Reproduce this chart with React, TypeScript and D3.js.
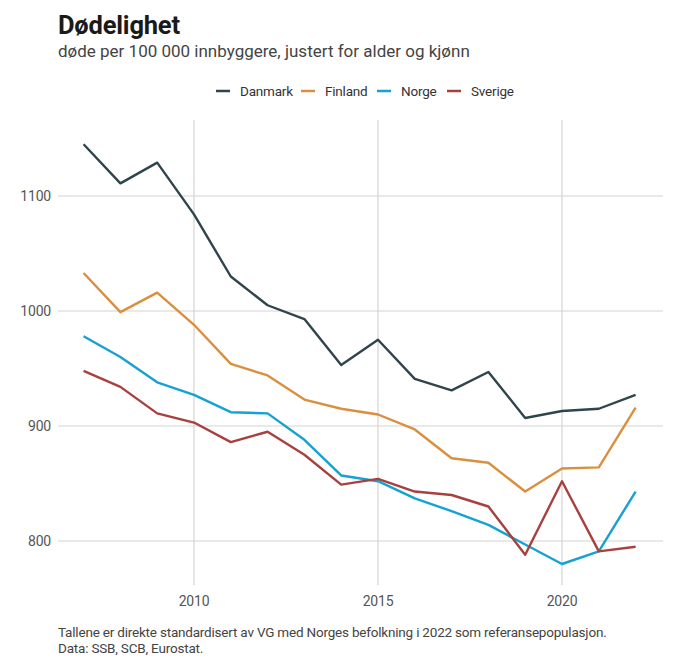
import { useRef, useEffect } from "react";
import * as d3 from "d3";

const YEARS = [2007, 2008, 2009, 2010, 2011, 2012, 2013, 2014, 2015, 2016, 2017, 2018, 2019, 2020, 2021, 2022];

const DANMARK = [1145, 1111, 1129, 1084, 1030, 1005, 993, 953, 975, 941, 931, 947, 907, 913, 915, 927];
const FINLAND = [1033, 999, 1016, 988, 954, 944, 923, 915, 910, 897, 872, 868, 843, 863, 864, 916];
const NORGE = [978, 960, 938, 927, 912, 911, 888, 857, 852, 837, 826, 814, 797, 780, 791, 843];
const SVERIGE = [948, 934, 911, 903, 886, 895, 875, 849, 854, 843, 840, 830, 788, 852, 791, 795];

const SERIES = [
  { name: "Danmark", values: DANMARK, color: "#2f454b" },
  { name: "Finland", values: FINLAND, color: "#da8f3e" },
  { name: "Norge", values: NORGE, color: "#15a2d2" },
  { name: "Sverige", values: SVERIGE, color: "#a8403f" },
];

const Y_TICKS = [800, 900, 1000, 1100];
const X_TICKS = [2010, 2015, 2020];

const FONT = "Roboto, 'Noto Sans', sans-serif";

export default function App() {
  const svgRef = useRef<SVGSVGElement>(null);

  useEffect(() => {
    if (!svgRef.current) return;
    const width = 680;
    const height = 671;
    const svg = d3.select(svgRef.current);
    svg.selectAll("*").remove();
    svg.attr("width", width).attr("height", height).attr("viewBox", `0 0 ${width} ${height}`);

    const x = d3.scaleLinear().domain([2010, 2020]).range([194, 562]);
    const y = d3.scaleLinear().domain([800, 1100]).range([541, 196]);

    const gridLeft = 58;
    const gridRight = 663;
    const gridTop = 120;
    const gridBottom = 585;

    // title block
    svg.append("text")
      .attr("x", 58).attr("y", 34)
      .style("font-family", FONT).style("font-size", "25.5px").style("font-weight", "700")
      .style("fill", "#1a1a1a").style("letter-spacing", "-0.2px")
      .text("Dødelighet");
    svg.append("text")
      .attr("x", 58).attr("y", 57)
      .style("font-family", FONT).style("font-size", "17px")
      .style("fill", "#444")
      .text("døde per 100 000 innbyggere, justert for alder og kjønn");

    // legend
    const legendX = [216, 301, 377, 447];
    const legend = svg.append("g");
    SERIES.forEach((s, i) => {
      legend.append("line")
        .attr("x1", legendX[i]).attr("x2", legendX[i] + 14)
        .attr("y1", 91).attr("y2", 91)
        .attr("stroke", s.color).attr("stroke-width", 2.5);
      legend.append("text")
        .attr("x", legendX[i] + 24).attr("y", 96)
        .style("font-family", FONT).style("font-size", "13.5px")
        .style("fill", "#333").style("letter-spacing", "-0.2px")
        .text(s.name);
    });

    // grid
    const grid = svg.append("g").attr("stroke", "#d4d4d4").attr("stroke-width", 1.2);
    grid.selectAll(".vg").data(X_TICKS).join("line")
      .attr("x1", (d) => x(d)).attr("x2", (d) => x(d))
      .attr("y1", gridTop).attr("y2", gridBottom);
    grid.selectAll(".hg").data(Y_TICKS).join("line")
      .attr("x1", gridLeft).attr("x2", gridRight)
      .attr("y1", (d) => y(d)).attr("y2", (d) => y(d));

    // axis labels
    svg.append("g").selectAll("text").data(Y_TICKS).join("text")
      .attr("x", 51).attr("y", (d) => y(d)).attr("dy", "0.35em")
      .attr("text-anchor", "end")
      .style("font-family", FONT).style("font-size", "14px").style("fill", "#555")
      .style("letter-spacing", "-0.2px")
      .text((d) => String(d));
    svg.append("g").selectAll("text").data(X_TICKS).join("text")
      .attr("x", (d) => x(d)).attr("y", 606)
      .attr("text-anchor", "middle")
      .style("font-family", FONT).style("font-size", "14px").style("fill", "#555")
      .style("letter-spacing", "-0.2px")
      .text((d) => String(d));

    // lines
    const line = d3.line<number>()
      .x((_, i) => x(YEARS[i]))
      .y((d) => y(d));
    svg.append("g").selectAll("path").data(SERIES).join("path")
      .attr("d", (s) => line(s.values))
      .attr("fill", "none")
      .attr("stroke", (s) => s.color)
      .attr("stroke-width", 2.4)
      .attr("stroke-linejoin", "round");

    // footer
    svg.append("text")
      .attr("x", 58).attr("y", 637)
      .style("font-family", FONT).style("font-size", "13.5px").style("fill", "#444")
      .style("letter-spacing", "-0.2px")
      .text("Tallene er direkte standardisert av VG med Norges befolkning i 2022 som referansepopulasjon.");
    svg.append("text")
      .attr("x", 58).attr("y", 653)
      .style("font-family", FONT).style("font-size", "13.5px").style("fill", "#444")
      .style("letter-spacing", "-0.2px")
      .text("Data: SSB, SCB, Eurostat.");
  }, []);

  return (
    <svg
      ref={svgRef}
      style={{ position: "absolute", left: 0, top: 0, display: "block", background: "#fff" }}
    />
  );
}
